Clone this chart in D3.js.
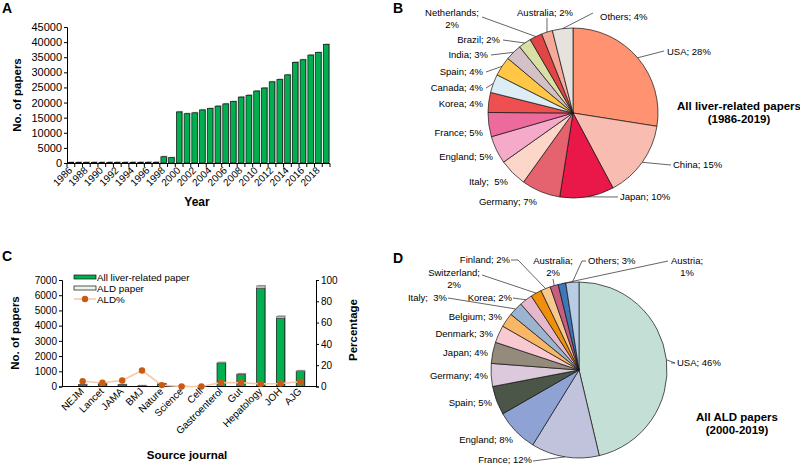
<!DOCTYPE html>
<html>
<head>
<meta charset="utf-8">
<script src="https://cdn.jsdelivr.net/npm/d3@7"></script>
<style>
  body { margin: 0; background: #fff; }
  svg { font-family: "Liberation Sans", Arial, sans-serif; }
  text { white-space: pre; }
</style>
</head>
<body>
<svg id="chart" width="800" height="466"></svg>
<script>
// ---------- data ----------
const years = [1986, 1987, 1988, 1989, 1990, 1991, 1992, 1993, 1994, 1995, 1996, 1997, 1998, 1999,
  2000, 2001, 2002, 2003, 2004, 2005, 2006, 2007, 2008, 2009, 2010, 2011, 2012, 2013, 2014, 2015,
  2016, 2017, 2018, 2019];
const papersPerYear = [180, 190, 190, 200, 200, 210, 210, 210, 220, 220, 230, 230, 2070, 1750,
  16900, 16300, 16600, 17550, 18000, 18800, 19550, 20300, 21800, 22400, 23800, 24800, 26850, 27600,
  29150, 33300, 34150, 35700, 36550, 39200];
const yTicksA = [0, 5000, 10000, 15000, 20000, 25000, 30000, 35000, 40000, 45000];

const journals = ["NEJM", "Lancet", "JAMA", "BMJ", "Nature", "Science", "Cell", "Gastroenterol",
  "Gut", "Hepatology", "JOH", "AJG"];
const liverPapers = [110, 170, 110, 40, 170, 20, 20, 1520, 800, 6450, 4490, 985];
const aldPapers = [6, 6, 6, 6, 2, 0, 0, 56, 28, 160, 126, 43];
const aldPercent = [5.0, 3.5, 5.6, 15.0, 1.3, 0, 0, 3.7, 3.5, 2.5, 2.8, 4.4];
const yTicksC = [0, 1000, 2000, 3000, 4000, 5000, 6000, 7000];
const pctTicksC = [0, 20, 40, 60, 80, 100];

const countriesB = ["USA", "China", "Japan", "Germany", "Italy", "England", "France", "Korea",
  "Canada", "Spain", "India", "Brazil", "Netherlands", "Australia", "Others"];
const sharesB = [27.5, 14.7, 10.3, 7.4, 5.3, 5.3, 4.6, 3.8, 3.5, 3.7, 3.1, 2.4, 2.4, 2.1, 3.9];
const pctLabelsB = [28, 15, 10, 7, 5, 5, 5, 4, 4, 4, 3, 2, 2, 2, 4];
const colorsB = ["#ff9270", "#f8bdb0", "#ea1848", "#e5636f", "#fdd6ca", "#f4aac8", "#ec6a9c",
  "#ee5050", "#dcedf6", "#ffc745", "#d3c1c7", "#d9e0a6", "#e04646", "#f6a999", "#e6e2de"];

const countriesD = ["USA", "France", "England", "Spain", "Germany", "Japan", "Denmark", "Belgium",
  "Italy", "Korea", "Switzerland", "Finland", "Australia", "Austria", "Others"];
const sharesD = [46.3, 12.5, 7.9, 5.3, 4.2, 3.9, 3.2, 2.6, 2.6, 2.4, 2.0, 1.8, 1.5, 1.4, 2.4];
const pctLabelsD = [46, 12, 8, 5, 4, 4, 3, 3, 3, 2, 2, 2, 2, 1, 3];
const colorsD = ["#c4e0d6", "#c0c3db", "#8ea3d3", "#4b5548", "#dcc9dc", "#958b7d", "#f8c9d1",
  "#f8b767", "#9db4d0", "#e5b9cb", "#f08f0c", "#f8c98f", "#c75d80", "#3d78b7", "#b8cde5"];

// ---------- setup ----------
const svg = d3.select("#chart");
const font = "\"Liberation Sans\", Arial, sans-serif";
const green = "#00b050";

function panelLetter(t, x, y) {
  svg.append("text").attr("x", x).attr("y", y).attr("font-size", 14).attr("font-weight", "bold").text(t);
}
panelLetter("A", 2, 13);
panelLetter("B", 393, 13);
panelLetter("C", 2, 261);
panelLetter("D", 393, 263);

// ---------- panel A ----------
{
  const x = d3.scaleBand().domain(years).range([67, 330]).paddingInner(0.28).paddingOuter(0.14);
  const y = d3.scaleLinear().domain([0, 45000]).range([163, 27]);
  const g = svg.append("g");

  // shadow then bar
  g.selectAll("rect.sh").data(years).enter().append("rect")
    .attr("x", d => x(d) + 1).attr("y", (d, i) => y(papersPerYear[i]) - 1)
    .attr("width", x.bandwidth()).attr("height", (d, i) => y(0) - y(papersPerYear[i]))
    .attr("fill", "#a6a6a6");
  g.selectAll("rect.bar").data(years).enter().append("rect")
    .attr("x", d => x(d)).attr("y", (d, i) => y(papersPerYear[i]))
    .attr("width", x.bandwidth()).attr("height", (d, i) => y(0) - y(papersPerYear[i]))
    .attr("fill", green).attr("stroke", "#111").attr("stroke-width", 0.7);

  const yAxis = g.append("g").attr("transform", "translate(67,0)")
    .call(d3.axisLeft(y).tickValues(yTicksA).tickSize(3).tickPadding(2).tickFormat(d3.format("d")));
  yAxis.selectAll("text").attr("font-size", 11).attr("font-family", font).attr("fill", "#000");
  yAxis.selectAll("line,path").attr("stroke", "#000");

  // x axis line + ticks at category boundaries
  g.append("line").attr("x1", 67).attr("x2", 330).attr("y1", 163.5).attr("y2", 163.5).attr("stroke", "#000");
  const step = x.step();
  years.forEach((d, i) => {
    const bx = x(d) - step * x.paddingInner() / 2;
    g.append("line").attr("x1", bx).attr("x2", bx).attr("y1", 163.5).attr("y2", 167).attr("stroke", "#000");
  });
  g.append("line").attr("x1", 330).attr("x2", 330).attr("y1", 163.5).attr("y2", 167).attr("stroke", "#000");

  years.filter((d, i) => i % 2 === 0).forEach(d => {
    const cx = x(d) + x.bandwidth() / 2 + 2;
    g.append("text").attr("transform", `translate(${cx},${171}) rotate(-45)`)
      .attr("text-anchor", "end").attr("font-size", 10).text(d);
  });

  g.append("text").attr("x", 197).attr("y", 206).attr("text-anchor", "middle")
    .attr("font-size", 12).attr("font-weight", "bold").text("Year");
  g.append("text").attr("transform", "translate(21,95) rotate(-90)").attr("text-anchor", "middle")
    .attr("font-size", 11.5).attr("font-weight", "bold").text("No. of papers");
}

// ---------- panel C ----------
{
  const x = d3.scaleBand().domain(journals).range([67, 316]).padding(0.58);
  const y = d3.scaleLinear().domain([0, 7000]).range([386.5, 280]);
  const yr = d3.scaleLinear().domain([0, 100]).range([386.5, 280]);
  const g = svg.append("g");

  g.selectAll("rect.sh").data(journals).enter().append("rect")
    .attr("x", d => x(d) + 1).attr("y", (d, i) => y(liverPapers[i] + aldPapers[i]) - 1)
    .attr("width", x.bandwidth()).attr("height", (d, i) => y(0) - y(liverPapers[i] + aldPapers[i]))
    .attr("fill", "#a6a6a6");
  g.selectAll("rect.bar").data(journals).enter().append("rect")
    .attr("x", d => x(d)).attr("y", (d, i) => y(liverPapers[i]))
    .attr("width", x.bandwidth()).attr("height", (d, i) => y(0) - y(liverPapers[i]))
    .attr("fill", green).attr("stroke", "#111").attr("stroke-width", 0.7);
  g.selectAll("rect.ald").data(journals).enter().append("rect")
    .attr("x", d => x(d)).attr("y", (d, i) => y(liverPapers[i] + aldPapers[i]))
    .attr("width", x.bandwidth()).attr("height", (d, i) => y(liverPapers[i]) - y(liverPapers[i] + aldPapers[i]))
    .attr("fill", "#bfbfbf").attr("stroke", "#555").attr("stroke-width", 0.4);

  const yAxis = g.append("g").attr("transform", "translate(62,0)")
    .call(d3.axisLeft(y).tickValues(yTicksC).tickSize(3).tickPadding(2).tickFormat(d3.format("d")));
  yAxis.selectAll("text").attr("font-size", 10).attr("font-family", font).attr("fill", "#000");
  const yrAxis = g.append("g").attr("transform", "translate(316,0)")
    .call(d3.axisRight(yr).tickValues(pctTicksC).tickSize(3).tickPadding(2));
  yrAxis.selectAll("text").attr("font-size", 10).attr("font-family", font).attr("fill", "#000");
  g.selectAll(".domain, .tick line").attr("stroke", "#000");

  g.append("line").attr("x1", 62).attr("x2", 316).attr("y1", 386.5).attr("y2", 386.5).attr("stroke", "#000");

  const line = d3.line().x((d, i) => x(journals[i]) + x.bandwidth() / 2).y(d => yr(d));
  g.append("path").datum(aldPercent).attr("d", line).attr("fill", "none")
    .attr("stroke", "#f7c9a9").attr("stroke-width", 1.6);
  g.selectAll("circle.pt").data(aldPercent).enter().append("circle")
    .attr("cx", (d, i) => x(journals[i]) + x.bandwidth() / 2).attr("cy", d => yr(d))
    .attr("r", 3.2).attr("fill", "#c85a14");

  journals.forEach(d => {
    const cx = x(d) + x.bandwidth() / 2 + 2;
    g.append("text").attr("transform", `translate(${cx},${392}) rotate(-45)`)
      .attr("text-anchor", "end").attr("font-size", 10).text(d);
  });

  // legend
  const lg = g.append("g").attr("transform", "translate(74,275)");
  lg.append("rect").attr("x", 0).attr("y", 0).attr("width", 22).attr("height", 4)
    .attr("fill", green).attr("stroke", "#111").attr("stroke-width", 0.7);
  lg.append("text").attr("x", 23).attr("y", 6).attr("font-size", 9.8).text("All liver-related paper");
  lg.append("rect").attr("x", 0).attr("y", 11).attr("width", 22).attr("height", 4)
    .attr("fill", "#eef5e8").attr("stroke", "#111").attr("stroke-width", 0.7);
  lg.append("text").attr("x", 23).attr("y", 17).attr("font-size", 9.8).text("ALD paper");
  lg.append("line").attr("x1", 0).attr("x2", 22).attr("y1", 24).attr("y2", 24)
    .attr("stroke", "#f7c9a9").attr("stroke-width", 1.6);
  lg.append("circle").attr("cx", 11).attr("cy", 24).attr("r", 3.2).attr("fill", "#c85a14");
  lg.append("text").attr("x", 23).attr("y", 28).attr("font-size", 9.8).text("ALD%");

  g.append("text").attr("x", 187).attr("y", 459).attr("text-anchor", "middle")
    .attr("font-size", 11.5).attr("font-weight", "bold").text("Source journal");
  g.append("text").attr("transform", "translate(19,333) rotate(-90)").attr("text-anchor", "middle")
    .attr("font-size", 11.5).attr("font-weight", "bold").text("No. of papers");
  g.append("text").attr("transform", "translate(357,330) rotate(-90)").attr("text-anchor", "middle")
    .attr("font-size", 11.5).attr("font-weight", "bold").text("Percentage");
}

// ---------- pies ----------
// label layout relative to pie centre: text position, anchor, leader points, two-line split
const layoutB = {
  USA: { x: 94, y: -58, a: "start", lead: [[91, -62]] },
  China: { x: 100, y: 55, a: "start", lead: [[98, 52]] },
  Japan: { x: 47, y: 87, a: "start", lead: [[45, 84]] },
  Germany: { x: -36, y: 92, a: "end" },
  Italy: { x: -65, y: 72, a: "end", text: "Italy;  5%" },
  England: { x: -80, y: 47, a: "end" },
  France: { x: -90, y: 23, a: "end" },
  Korea: { x: -90, y: -6, a: "end" },
  Canada: { x: -90, y: -22, a: "end", lead: [[-87, -25]] },
  Spain: { x: -90, y: -38, a: "end", lead: [[-87, -41]] },
  India: { x: -85, y: -55, a: "end", lead: [[-82, -58]] },
  Brazil: { x: -73, y: -70, a: "end", lead: [[-70, -73]] },
  Netherlands: { x: -121, y: -97, a: "middle", split: true, lead: [[-91, -96]] },
  Australia: { x: -28, y: -97, a: "middle", lead: [[-26, -95]] },
  Others: { x: 27, y: -93, a: "start", lead: [[20, -100]] }
};
const layoutD = {
  USA: { x: 98, y: -4, a: "start", lead: [[92, -7], [96, -7]] },
  France: { x: -47, y: 93, a: "end", lead: [[-46, 91]] },
  England: { x: -66, y: 73, a: "end" },
  Spain: { x: -87, y: 36, a: "end" },
  Germany: { x: -91, y: 9, a: "end" },
  Japan: { x: -91, y: -14, a: "end" },
  Denmark: { x: -86, y: -33, a: "end" },
  Belgium: { x: -77, y: -50, a: "end" },
  Italy: { x: -132, y: -69, a: "end", text: "Italy;  3%", lead: [[-131, -72]] },
  Korea: { x: -67, y: -69, a: "end", lead: [[-66, -72]] },
  Switzerland: { x: -125, y: -94, a: "middle", split: true, lead: [[-97, -95]] },
  Finland: { x: -69, y: -107, a: "end", lead: [[-68, -110], [-61, -110]] },
  Australia: { x: -26, y: -106, a: "middle", split: true, lead: [[-26, -91]] },
  Austria: { x: 108, y: -106, a: "middle", split: true, lead: [[89, -109]] },
  Others: { x: 9, y: -106, a: "start", lead: [[7, -109], [3, -109]] }
};

function drawPie(cx, cy, r, names, shares, pcts, colors, layout, title, tx, ty) {
  const g = svg.append("g").attr("transform", `translate(${cx},${cy})`);
  const arcs = d3.pie().sort(null).value(d => d)(shares);
  const arc = d3.arc().innerRadius(0).outerRadius(r);
  g.selectAll("path.sl").data(arcs).enter().append("path")
    .attr("d", arc).attr("fill", (d, i) => colors[i])
    .attr("stroke", "#111").attr("stroke-width", 0.7);

  arcs.forEach((d, i) => {
    const name = names[i];
    const L = layout[name];
    const label = L.text || `${name}; ${pcts[i]}%`;
    if (L.lead) {
      const mid = (d.startAngle + d.endAngle) / 2;
      const p0 = [Math.sin(mid) * r, -Math.cos(mid) * r];
      const pts = L.lead.concat([p0]);
      g.append("path").attr("d", d3.line()(pts)).attr("fill", "none")
        .attr("stroke", "#222").attr("stroke-width", 0.7);
    }
    if (L.split) {
      g.append("text").attr("x", L.x).attr("y", L.y).attr("text-anchor", L.a)
        .attr("font-size", 9.5).text(`${name};`);
      g.append("text").attr("x", L.x).attr("y", L.y + 12).attr("text-anchor", L.a)
        .attr("font-size", 9.5).text(`${pcts[i]}%`);
    } else {
      g.append("text").attr("x", L.x).attr("y", L.y).attr("text-anchor", L.a)
        .attr("font-size", 9.5).text(label);
    }
  });

  svg.append("text").attr("x", tx).attr("y", ty).attr("text-anchor", "middle")
    .attr("font-size", 11.5).attr("font-weight", "bold").text(title[0]);
  svg.append("text").attr("x", tx).attr("y", ty + 13).attr("text-anchor", "middle")
    .attr("font-size", 11.5).attr("font-weight", "bold").text(title[1]);
}

drawPie(573, 113, 85, countriesB, sharesB, pctLabelsB, colorsB, layoutB,
  ["All liver-related papers", "(1986-2019)"], 739, 110);
drawPie(579, 370, 88, countriesD, sharesD, pctLabelsD, colorsD, layoutD,
  ["All ALD papers", "(2000-2019)"], 737, 421);
</script>
</body>
</html>
